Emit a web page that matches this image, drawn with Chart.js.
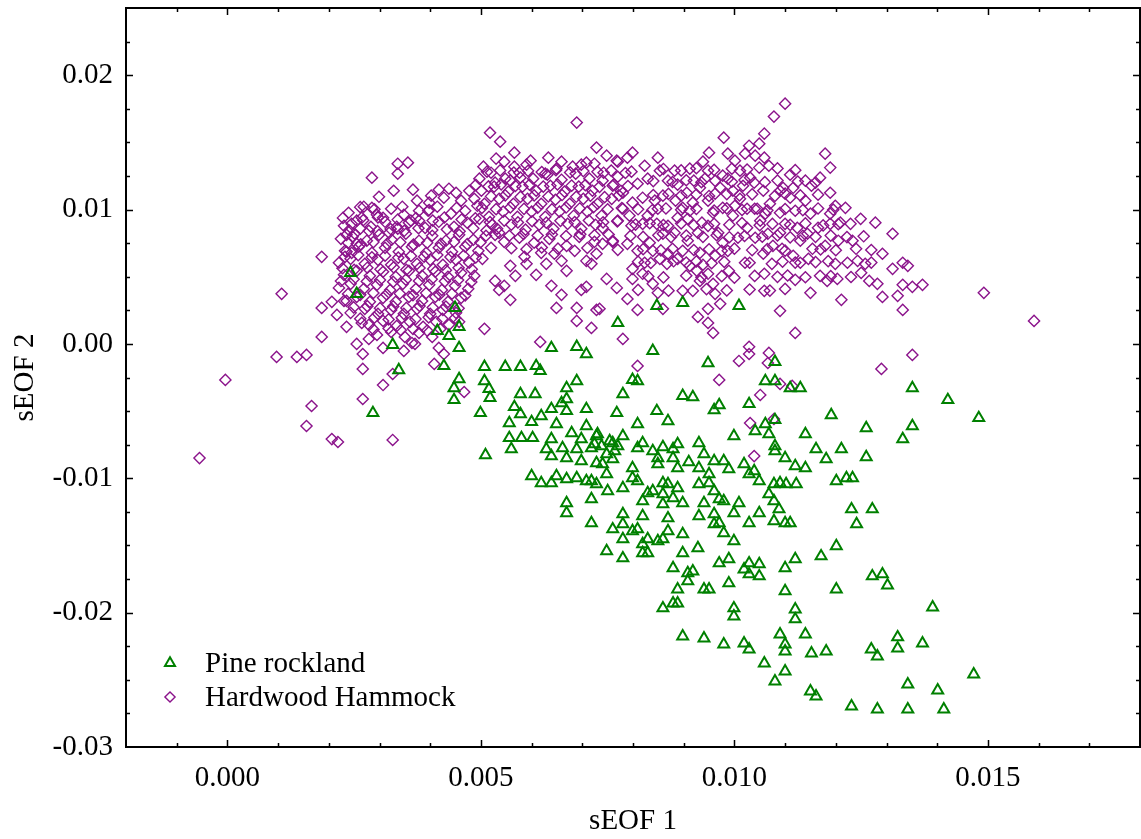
<!DOCTYPE html>
<html>
<head>
<meta charset="utf-8">
<script src="https://cdn.jsdelivr.net/npm/chart.js@4.4.1/dist/chart.umd.min.js"></script>
<style>
  html, body { margin: 0; padding: 0; background: #ffffff; overflow: hidden; }
  canvas { display: block; }
</style>
</head>
<body>
<canvas id="chart" width="1141" height="839"></canvas>
<script>
// Series names, axis titles and labelled tick values
const seriesNames = ['Pine rockland', 'Hardwood Hammock'];
const xTitle = 'sEOF 1';
const yTitle = 'sEOF 2';
const xTickValues = [0, 0.005, 0.010, 0.015];
const yTickValues = [-0.03, -0.02, -0.01, 0, 0.01, 0.02];

// [sEOF 1, sEOF 2] per site
const pineRockland = [
[.00243,.00529],[.00255,.00373],[.00326,-.00007],[.00338,-.00194],[.00287,-.00514],[.00449,.00268],[.00457,.00127],[.00437,.0006],[.00414,.00097],[.00457,-.0003],
[.00427,-.00164],[.00507,-.00171],[.00548,-.00171],[.00578,-.00171],[.00609,-.00164],[.00617,-.00201],[.00639,-.0003],[.00689,-.00022],[.00708,-.00075],[.0077,.00156],
[.00847,.00283],[.00839,-.00052],[.00457,-.00261],[.00447,-.00328],[.00447,-.00417],[.00507,-.00276],[.00516,-.00335],[.00518,-.00402],[.00499,-.00514],[.00578,-.00373],
[.00607,-.00373],[.00669,-.00328],[.00689,-.00276],[.00659,-.0044],[.00669,-.00499],[.00708,-.00484],[.00566,-.00469],[.00578,-.00522],[.00556,-.00589],[.006,-.00581],
[.00619,-.00537],[.00639,-.00484],[.00649,-.00596],[.00679,-.00663],[.00708,-.00611],[.0073,-.00671],[.00768,-.00514],[.00556,-.007],[.0058,-.007],[.00602,-.007],
[.00639,-.00708],[.00698,-.00708],[.00724,-.00745],[.00754,-.00723],[.0056,-.00782],[.00629,-.00782],[.00661,-.00775],[.00509,-.00827],[.00764,-.00797],
[.0078,-.00373],[.00799,-.00268],[.00809,-.00276],[.00809,-.00596],[.00847,-.00499],[.00639,-.00835],[.00669,-.0085],[.00689,-.00782],[.00698,-.00872],[.00728,-.00686],
[.00718,-.00775],[.00738,-.0076],[.0076,-.00738],[.0078,-.00686],[.0077,-.0076],[.00748,-.0082],[.0074,-.00894],[.0076,-.00857],[.00799,-.00924],[.00819,-.00738],
[.00809,-.00775],[.00839,-.00797],[.00849,-.0085],[.00839,-.01095],[.00819,-.0117],[.00799,-.00999],[.00809,-.01021],[.0078,-.01073],[.0075,-.01095],[.00718,-.01021],
[.00708,-.01021],[.00689,-.00999],[.00669,-.01006],[.00649,-.00984],[.00639,-.01036],[.00619,-.01036],[.006,-.00984],[.00669,-.01185],[.00669,-.01259],[.00718,-.01155],
[.00718,-.01334],[.0078,-.01267],[.0078,-.01341],[.00819,-.01282],[.0076,-.01379],[.00799,-.01393],[.00809,-.01379],[.00829,-.01453],[.0078,-.01453],[.00819,-.0149],
[.00748,-.01542],[.0078,-.01595],[.00819,-.01557],[.00829,-.01557],[.00849,-.01468],[.00948,-.00142],[.0108,-.00134],[.01061,-.00276],[.0108,-.00276],[.0111,-.00328],
[.0113,-.00328],[.00898,-.00387],[.00918,-.00395],[.0097,-.00455],[.0096,-.00492],[.01029,-.00447],[.0108,-.00566],[.01061,-.00596],[.01041,-.00648],[.01068,-.00671],
[.0108,-.0076],[.0108,-.00797],[.011,-.0085],[.0112,-.00909],[.0114,-.00924],[.0114,-.00671],[.01161,-.00782],[.01181,-.00857],[.01211,-.00782],[.01191,-.00529],
[.0126,-.00626],[.0126,-.00842],[.01332,-.00708],[.01351,-.00611],[.01351,-.00328],[.01421,-.00417],[.01482,-.00551],[.01201,-.01021],[.01221,-.00999],[.01233,-.00999],
[.01231,-.0123],[.01272,-.0123],[.01241,-.01341],[.01122,-.01043],[.01102,-.01043],[.0109,-.01036],[.01078,-.01043],[.01049,-.01021],[.01039,-.00946],[.01029,-.00969],
[.01019,-.00894],[.00989,-.00931],[.00979,-.00872],[.0096,-.00872],[.0095,-.00969],[.0095,-.01036],[.0093,-.00924],[.0093,-.01043],[.0094,-.0082],[.0093,-.00738],
[.0091,-.00879],[.00888,-.00745],[.00879,-.00782],[.00859,-.00768],[.00888,-.00924],[.00879,-.0085],[.00869,-.00574],[.00849,-.00894],[.00669,-.0041],[.00748,-.00969],
[.00728,-.00887],[.00728,-.01043],[.00829,-.0111],[.00859,-.01036],[.00859,-.01118],[.00869,-.01043],[.00879,-.01148],[.00888,-.01073],[.00898,-.01185],[.00859,-.01192],
[.00869,-.01297],[.00869,-.01393],[.00859,-.01453],[.00898,-.01416],[.00898,-.01557],[.00928,-.0152],[.00879,-.01669],[.00908,-.01706],[.00918,-.01692],[.00908,-.01766],
[.00888,-.01826],[.00859,-.01967],[.00879,-.0193],[.00888,-.0193],[.0094,-.01826],[.0095,-.01826],[.0097,-.01632],[.00989,-.01602],[.00989,-.01781],[.00999,-.01468],
[.00979,-.01408],[.0097,-.01334],[.0096,-.01267],[.0097,-.01155],[.00979,-.0117],[.0096,-.01095],[.0094,-.01185],[.0093,-.01282],[.0096,-.01341],[.01009,-.01185],
[.00999,-.01259],[.01029,-.01334],[.01049,-.01259],[.01078,-.01319],[.011,-.01334],[.0111,-.01334],[.01068,-.01118],[.01078,-.0117],[.01088,-.0123],[.01029,-.01632],
[.01019,-.01677],[.01029,-.01714],[.01049,-.01639],[.01049,-.01729],[.011,-.01669],[.0112,-.01602],[.01171,-.0158],[.01201,-.01505],[.01272,-.01729],[.01292,-.01714],
[.01302,-.01796],[.01201,-.01826],[.011,-.0184],[.00999,-.01967],[.00999,-.02027],[.0112,-.01975],[.0112,-.02049],[.01391,-.0196],[.00898,-.02176],[.0094,-.02191],
[.00979,-.02236],[.01019,-.02228],[.01029,-.02273],[.0109,-.02161],[.011,-.02236],[.011,-.02288],[.0114,-.02161],[.01152,-.02303],[.01181,-.02288],[.01059,-.02377],
[.011,-.02437],[.0108,-.02511],[.0115,-.02586],[.01161,-.02623],[.0127,-.02273],[.01282,-.02325],[.01322,-.02183],[.01322,-.02265],[.01371,-.02228],[.01472,-.02459],
[.01342,-.02534],[.01401,-.02578],[.01231,-.02698],[.01282,-.0272],[.01342,-.0272],[.01413,-.0272],[.00898,.00306],[.01009,.00283],[.00999,-.00686]
];

const hardwoodHammock = [
[-.00055,-.0085],[-.00004,-.00268],[.00097,-.00097],[.00137,-.00097],[.00156,-.00082],[.00107,.00373],[.00186,.00648],[.00186,.00052],[.00166,-.00462],[.00156,-.00611],
[.00206,-.00708],[.00218,-.0073],[.00326,-.00715],[.00267,-.0041],[.00307,-.00306],[.00267,-.00186],[.00326,-.00224],[.00408,-.00149],[.00427,-.00075],[.00417,-.0003],
[.00267,-.00075],[.00255,0],[.00279,.00037],[.00307,-.0003],[.00348,-.00052],[.00364,.00007],[.00235,.00127],[.00265,.00156],[.00186,.00268],[.00206,.00313],
[.00216,.00216],[.00235,.0032],[.00507,.00112],[.00457,.00164],[.00467,-.00358],[.00617,.00015],[.00558,.00328],[.00649,.00268],[.00659,.00365],[.00639,.00432],
[.00689,.00268],[.00689,.00171],[.00718,.00119],[.00728,.00253],[.00698,.00402],[.00708,.00425],[.00748,.00484],[.00768,.00417],[.00285,.01237],[.00336,.01341],
[.00356,.01349],[.00336,.01267],[.00366,.01148],[.00518,.01572],[.00538,.01505],[.00689,.01647],[.00728,.01461],[.00748,.01401],[.00546,.01356],[.00566,.01319],
[.0059,.01334],[.00627,.01267],[.00649,.01304],[.00659,.01356],[.00698,.01334],[.00708,.01349],[.00768,.01364],[.00528,.012],[.00558,.01215],[.00578,.01237],
[.00245,.00894],[.00265,.00939],[.00285,.01013],[.00307,.00939],[.00235,.00812],[.00247,.00797],[.00235,.00686],[.00245,.00678],[.00255,.00745],[.00279,.00842],
[.00398,.01051],[.00417,.01148],[.00427,.01088],[.00451,.01125],[.00477,.0114],[.00487,.0108],[.00507,.01043],[.00396,.00991],[.00378,.00917],[.00358,.00902],
[.00336,.00857],[.00319,.00827],[.0059,.00596],[.00609,.00514],[.00629,.00596],[.00659,.00618],[.00669,.00544],[.00669,.0073],[.00619,.00678],[.00558,.00581],
[.00568,.00507],[.00546,.00432],[.00528,.00469],[.00536,.00402],[.00708,.00618],[.00718,.00596],[.00728,.00671],[.0074,.00745],[.0076,.0076],[.0077,.007],
[.011,.01788],[.01078,.01692],[.01059,.01565],[.00979,.01535],[.00987,.01416],[.0095,.01423],[.00938,.01356],[.00948,.01289],[.01029,.01475],[.01049,.0149],
[.01021,.01416],[.01041,.01401],[.01059,.01386],[.01068,.01326],[.01049,.01312],[.01011,.01289],[.01031,.01237],[.00987,.0123],[.00977,.01252],[.01179,.01416],
[.01189,.01312],[.0111,.01259],[.01096,.01162],[.01116,.01162],[.0114,.01215],[.01152,.01177],[.01169,.01237],[.01189,.01125],[.01199,.01028],[.01189,.00969],
[.0114,.01066],[.0111,.01088],[.0109,.0114],[.00849,.01386],[.00799,.01423],[.00789,.01386],[.0077,.01356],[.00829,.0123],[.00809,.01192],[.00869,.01215],
[.00888,.01185],[.0092,.01215],[.00932,.01162],[.00906,.01125],[.00859,.01103],[.00819,.01088],[.00799,.01051],[.0078,.01125],[.0076,.01177],[.0074,.01215],
[.00758,.0108],[.0078,.01006],[.00829,.00954],[.00849,.01006],[.00898,.01013],[.00918,.01051],[.00948,.01066],[.00962,.01118],[.00972,.01162],[.00997,.0114],
[.01017,.01177],[.01039,.012],[.01057,.0114],[.0107,.01043],[.01045,.01006],[.01025,.01006],[.01001,.01028],[.00977,.01013],[.00958,.00976],[.00936,.00902],
[.00908,.00931],[.00888,.00939],[.00869,.00879],[.00847,.00894],[.00819,.00894],[.00797,.00879],[.0077,.00917],[.0074,.00864],[.0076,.00768],[.00789,.00745],
[.00809,.00693],[.00833,.00753],[.00859,.0082],[.00882,.00827],[.00908,.00768],[.00928,.00827],[.00948,.00879],[.00968,.00827],[.00977,.00753],[.01007,.0079],
[.01025,.00864],[.01041,.0079],[.01066,.0082],[.0109,.00827],[.011,.00894],[.01124,.00864],[.01144,.0082],[.01165,.00864],[.01189,.00894],[.01209,.00902],
[.01229,.00894],[.01249,.00931],[.01278,.00902],[.01312,.0082],[.01292,.00671],[.01332,.00604],[.01312,.00559],[.01342,.00581],[.01371,.0044],[.01351,.00425],
[.01332,.0044],[.01322,.00358],[.01332,.00253],[.01292,.0035],[.01282,.00447],[.01266,.00469],[.0125,.00529],[.01258,.00596],[.01243,.00618],[.01223,.00604],
[.01199,.00596],[.01203,.00484],[.01183,.00469],[.01169,.00507],[.01146,.00633],[.0113,.00604],[.01116,.00656],[.01094,.00708],[.01076,.0073],[.01057,.00671],
[.01074,.00596],[.01059,.00522],[.0112,.00477],[.0115,.0038],[.01211,.00328],[.0109,.00246],[.01059,.00395],[.0112,.00082],[.00989,.00544],[.00958,.00447],
[.00938,.00589],[.00948,.00522],[.00926,.00544],[.00912,.00581],[.00898,.00395],[.00918,.00395],[.00932,.00469],[.00962,.00373],[.00972,.00298],[.00948,.00261],
[.00928,.00201],[.00948,.00156],[.00958,.00082],[.00859,.00261],[.00809,.00253],[.00789,.00335],[.00799,.00484],[.00819,.00522],[.00839,.00447],[.00849,.0038],
[.00799,.00559],[.00867,.00596],[.00888,.00633],[.00869,.00671],[.00839,.00693],[.0078,.00037],[.00809,-.00164],[.0097,-.00268],[.01009,-.00127],[.01029,-.00075],
[.01029,-.00022],[.01068,-.00067],[.0109,-.00298],[.01051,-.0038],[.01031,-.00589],[.01078,-.00559],[.01039,-.00835],[.0129,-.00186],[.01351,-.00082],[.01492,.0038],
[.01591,.00171],[.00734,.00261],[.01066,-.00142],[.01114,-.00313],
[.00299,.01095],[.00328,.0114],[.00374,.01066],[.00402,.01103],[.00437,.01155],[.00461,.01066],
[.00239,.00976],[.00269,.01021],[.00295,.00961],[.00323,.01006],[.00348,.00961],[.00378,.00991],[.00414,.01021],[.00441,.00969],[.00469,.00991],[.00493,.01028],
[.0023,.00879],[.00255,.00917],[.00283,.00872],[.00311,.00909],[.00334,.00872],[.00362,.00917],[.0039,.00864],[.00417,.00909],[.00447,.00872],[.00473,.00902],[.00497,.00931],[.00522,.00887],
[.00224,.00782],[.00251,.0082],[.00275,.00768],[.00299,.00812],[.00324,.00775],[.00352,.0082],[.00378,.00768],[.00404,.00805],[.00431,.00768],[.00457,.00812],[.00485,.00775],[.0051,.00805],[.00536,.00827],
[.00232,.00693],[.00259,.00723],[.00285,.00678],[.00311,.00715],[.00338,.00686],[.00364,.00723],[.00392,.00678],[.00417,.00715],[.00443,.00686],[.00469,.00723],[.00495,.00693],[.0052,.00715],
[.0022,.00604],[.00243,.00633],[.00271,.00596],[.00297,.00626],[.00323,.00589],[.00348,.00633],[.00374,.00596],[.004,.00626],[.00425,.00589],[.00451,.00626],[.00477,.00604],[.00503,.00633],
[.0023,.00514],[.00255,.00544],[.00281,.00507],[.00307,.00537],[.00332,.00499],[.00358,.00544],[.00384,.00507],[.0041,.00537],[.00435,.00499],[.00461,.00529],[.00487,.00507],
[.0022,.00417],[.00243,.00447],[.00269,.0041],[.00295,.0044],[.00321,.00402],[.00346,.00447],[.00372,.0041],[.00398,.0044],[.00423,.00402],[.00449,.00432],[.00475,.0041],
[.0023,.0032],[.00255,.0035],[.00281,.00313],[.00307,.00343],[.00332,.00313],[.00358,.0035],[.00384,.0032],[.0041,.0035],[.00435,.00313],[.00461,.00343],
[.00243,.00231],[.00271,.00261],[.00297,.00224],[.00323,.00253],[.00348,.00224],[.00374,.00261],[.004,.00224],[.00425,.00253],[.00451,.00231],
[.00279,.00142],[.00307,.00171],[.00334,.00134],[.0036,.00164],[.00386,.00127],[.00412,.00164],[.00437,.00142],
[.00295,.00067],[.00323,.00089],[.0035,.00052],[.00378,.00082],[.00404,.00052],[.0037,0],
[.00505,.01319],[.0053,.01379],[.00566,.01423],[.00598,.01364],[.00633,.01386],[.00681,.01319],[.00724,.01341],
[.00497,.0123],[.0052,.01274],[.00548,.0123],[.00576,.01274],[.00603,.0123],[.00631,.01259],[.00659,.01222],[.00687,.01267],[.00714,.0123],[.00742,.01274],[.0077,.01244],[.00797,.01282],
[.00501,.0114],[.00526,.0117],[.00554,.01133],[.00582,.0117],[.00609,.0114],[.00637,.01177],[.00665,.01133],[.00693,.0117],[.0072,.0114],[.00776,.0114],
[.00536,.0108],[.00564,.01043],[.00592,.0108],[.00619,.01043],[.00647,.01073],[.00675,.01043],[.00702,.0108],[.0073,.01043],
[.00516,.00946],[.00544,.00984],[.00572,.00946],[.006,.00984],[.00627,.00946],[.00655,.00984],[.00683,.00954],[.0071,.00984],[.00738,.00954],[.00793,.00954],
[.00532,.00857],[.0056,.00887],[.00588,.0085],[.00615,.00887],[.00643,.00857],[.00671,.00894],[.00698,.00857],[.00726,.00887],
[.00546,.0076],[.00576,.0079],[.00605,.00753],[.00635,.00782],[.00694,.00797],[.00724,.0076],
[.00586,.00648],[.00645,.00671],[.00685,.00693],
[.00823,.01326],[.00853,.01289],[.00882,.01289],[.00912,.01304],[.00942,.0123],[.01001,.01364],[.01011,.0108],[.01061,.00969],[.0109,.00976],[.0112,.00991],
[.0115,.00969],[.01219,.01013],[.01233,.00768],[.01205,.00768],[.01179,.0073],[.01154,.00708],[.0113,.00768],[.00987,.00693],[.00962,.00656],[.00932,.00678],
[.00898,.00693],[.00853,.00633],[.00823,.00604],[.00997,.00954],[.01051,.00917],[.00912,.00991],[.00884,.01066],[.00843,.01066],[.01021,.00604],
[.00262,.01018],[.0029,.01002],[.00345,.01021],[.00398,.00996],[.00452,.01012],
[.00228,.00938],[.00268,.00921],[.00297,.00942],[.00336,.00925],[.00372,.00937],[.00405,.00918],[.00428,.00941],[.00462,.00926],[.00489,.00935],
[.0024,.00846],[.00262,.00858],[.00296,.00839],[.00322,.00855],[.00349,.00842],[.00377,.00861],[.00404,.00847],[.00433,.00852],[.00458,.00838],[.00485,.0086],[.00511,.00844],
[.00238,.00752],[.00263,.00741],[.00288,.00758],[.00315,.00745],[.00341,.00756],[.00367,.00739],[.00394,.00752],[.00421,.00744],[.00447,.00759],[.00473,.00742],[.00499,.00755],
[.00232,.00648],[.00258,.00661],[.00285,.00645],[.00311,.00657],[.00337,.00642],[.00362,.00655],[.00388,.00649],[.00414,.00662],[.0044,.00646],[.00466,.00658],[.0049,.00644],
[.00227,.00563],[.0025,.00551],[.00276,.00567],[.00302,.00555],[.00328,.0057],[.00353,.00552],[.00379,.00565],[.00406,.00558],[.00431,.00549],[.00456,.00566],[.00482,.00555],
[.00224,.00468],[.00249,.00481],[.00275,.00465],[.00301,.00476],[.00327,.00462],[.00352,.00478],[.00378,.00469],[.00403,.00482],[.00429,.00466],[.00455,.00475],[.00481,.00461],
[.00238,.00372],[.00262,.00365],[.00288,.00379],[.00314,.00368],[.0034,.00375],[.00366,.00362],[.00392,.00378],[.00418,.00366],[.00443,.00374],[.00469,.00361],
[.00249,.00272],[.00276,.00281],[.00301,.00266],[.00327,.00279],[.00353,.00268],[.00379,.00283],[.00405,.00271],[.00431,.00278],[.00456,.00265],
[.00262,.00188],[.0029,.00196],[.00318,.00182],[.00344,.00194],[.00371,.00185],[.00397,.00198],[.00424,.00187],[.00449,.00192],
[.00288,.00108],[.00318,.00115],[.00342,.00102],[.00366,.00112],[.00394,.00099],[.0042,.00111],
[.00512,.01282],[.00538,.01291],[.00565,.01275],[.00593,.01288],[.0062,.01279],[.00648,.01293],[.00676,.01276],[.00702,.01286],[.0073,.01281],[.00757,.0129],[.00785,.01272],
[.0049,.01183],[.00515,.01172],[.0054,.01188],[.00568,.01176],[.00596,.01185],[.00623,.01171],[.00651,.01187],[.00679,.01178],[.00706,.01182],[.00734,.01169],[.00762,.01186],[.0079,.01175],
[.0052,.01098],[.00548,.01106],[.00578,.01094],[.00605,.01105],[.00633,.01097],[.0066,.01108],[.00688,.01095],[.00716,.01103],[.00744,.01092],[.00772,.01106],
[.00502,.01012],[.0053,.01003],[.00558,.01016],[.00585,.01005],[.00612,.01014],[.0064,.01001],[.00668,.01015],[.00695,.01008],[.00722,.01017],[.0075,.01002],[.00778,.01011],
[.00518,.00906],[.00546,.00918],[.00573,.00904],[.00601,.00913],[.00629,.00902],[.00657,.00916],[.00685,.00907],[.00713,.00919],[.00741,.00905],[.00769,.00912],
[.00528,.00812],[.00556,.00805],[.00584,.00818],[.00612,.00806],[.0064,.00815],[.00668,.00803],[.00696,.00817],[.00724,.00808],[.00752,.00814],
[.0056,.00712],[.0059,.00705],[.0062,.00718],[.00652,.00709],[.0071,.00714],
[.0086,.01302],[.00895,.01291],[.00925,.01308],[.0096,.01295],[.00995,.01304],[.01025,.01298],[.01085,.01306],[.0112,.01293],
[.0084,.01212],[.00878,.01205],[.00905,.01218],[.00935,.01203],[.00962,.01214],[.00995,.01207],[.0102,.01219],[.0106,.01204],[.01085,.01216],[.01125,.01208],[.0116,.01201],
[.0084,.01108],[.0087,.01116],[.00895,.01104],[.00925,.01112],[.0095,.01101],[.00985,.01115],[.0101,.01106],[.01035,.01113],[.0108,.01102],[.011,.01118],[.0113,.01105],[.01165,.01111],
[.0081,.01002],[.00838,.00995],[.00865,.01008],[.00895,.00998],[.00925,.01005],[.0096,.00993],[.00985,.01009],[.01015,.00997],[.0104,.01006],[.01065,.00994],[.011,.01004],[.01135,.00996],[.01165,.01008],[.01195,.00999],
[.00805,.00888],[.00833,.00898],[.0086,.00885],[.00895,.00896],[.0092,.00883],[.0096,.00894],[.0099,.00887],[.01015,.00899],[.0105,.00884],[.01075,.00893],[.0111,.00886],[.0114,.00897],[.01175,.00882],[.01205,.00891],
[.00795,.00804],[.0082,.00796],[.0085,.00808],[.00875,.00795],[.00905,.00806],[.00938,.00797],[.00965,.00809],[.0099,.00794],[.0102,.00803],[.01055,.00798],[.01085,.00807],[.0111,.00793],[.01135,.00805],[.0116,.00797],[.0119,.00806],[.01222,.00795],[.01255,.00801],
[.0082,.00705],[.00855,.00696],[.00878,.00708],[.0092,.00699],[.0095,.00704],[.00975,.00693],[.01,.00709],[.01035,.00698],[.01065,.00706],[.011,.00694],[.0117,.00703],[.012,.00697],[.0124,.00708],[.0127,.00699],
[.0081,.00612],[.00835,.00603],[.0088,.00615],[.00905,.00606],[.00925,.00614],[.00955,.00601],[.0098,.00611],[.0103,.00604],[.01095,.00613],[.0112,.00605],[.0116,.00609],[.01185,.00616],[.0127,.00605],
[.0083,.00502],[.0086,.00495],[.00905,.00508],[.00935,.00497],[.00975,.00504],[.01,.00493],[.0104,.00506],[.01085,.00499],[.01105,.00509],[.0114,.00496],[.0119,.00504],[.0123,.00498],
[.0081,.00402],[.0087,.00396],[.00945,.00408],[.00985,.00398],[.0103,.00405],[.0107,.00397],[.011,.00409]
];

const FONT_FAMILY = '"Liberation Serif", "Times New Roman", serif';
const FONT_SIZE = 29;
const PINE_COLOR = '#008000';
const HAMMOCK_COLOR = '#8b138b';

const toXY = rows => rows.map(r => ({ x: r[0], y: r[1] }));

// Closed frame with inward major/minor ticks on all four sides
const frameAndTicks = {
  id: 'frameAndTicks',
  afterDatasetsDraw(chart) {
    const { ctx, chartArea: a, scales } = chart;
    const sx = scales.x, sy = scales.y;
    ctx.save();
    ctx.strokeStyle = '#000';
    ctx.lineWidth = 1.5;
    ctx.beginPath();
    for (let i = -1; i <= 17; i++) {
      const px = Math.round(sx.getPixelForValue(i / 1000)) + 0.5;
      const len = (i % 5 === 0) ? 7 : 4;
      ctx.moveTo(px, a.bottom); ctx.lineTo(px, a.bottom - len);
      ctx.moveTo(px, a.top); ctx.lineTo(px, a.top + len);
    }
    for (let j = -11; j <= 9; j++) {
      const py = Math.round(sy.getPixelForValue(j * 0.0025)) + 0.5;
      const len = (j % 4 === 0) ? 7 : 4;
      ctx.moveTo(a.left, py); ctx.lineTo(a.left + len, py);
      ctx.moveTo(a.right, py); ctx.lineTo(a.right - len, py);
    }
    ctx.stroke();
    ctx.lineWidth = 2;
    ctx.strokeRect(a.left, a.top, a.right - a.left, a.bottom - a.top);
    ctx.restore();
  }
};

// Legend drawn inside the lower-left corner of the plot
const insideLegend = {
  id: 'insideLegend',
  afterDraw(chart) {
    const { ctx, chartArea: a } = chart;
    ctx.save();
    ctx.font = FONT_SIZE + 'px ' + FONT_FAMILY;
    ctx.textBaseline = 'middle';
    ctx.textAlign = 'left';
    chart.data.datasets.forEach((ds, i) => {
      const cy = a.bottom - 84 + i * 34;
      const cx = a.left + 44;
      ctx.strokeStyle = ds.pointBorderColor;
      ctx.fillStyle = 'rgba(0,0,0,0)';
      ctx.lineWidth = ds.pointBorderWidth;
      Chart.helpers.drawPoint(ctx, {
        pointStyle: ds.pointStyle, radius: ds.pointRadius - 0.5,
        rotation: 0, borderWidth: ds.pointBorderWidth
      }, cx, cy);
      ctx.fillStyle = '#000';
      ctx.fillText(ds.label, a.left + 79, cy + 1);
    });
    ctx.restore();
  }
};

const tickFont = { family: FONT_FAMILY, size: FONT_SIZE };

new Chart(document.getElementById('chart'), {
  type: 'scatter',
  data: {
    datasets: [
      {
        label: seriesNames[0],
        data: toXY(pineRockland),
        pointStyle: 'triangle',
        pointRadius: 6.3,
        pointBorderWidth: 2,
        pointBorderColor: PINE_COLOR,
        pointBackgroundColor: 'rgba(0,0,0,0)',
        showLine: false
      },
      {
        label: seriesNames[1],
        data: toXY(hardwoodHammock),
        pointStyle: 'rectRot',
        pointRadius: 5.6,
        pointBorderWidth: 1.4,
        pointBorderColor: HAMMOCK_COLOR,
        pointBackgroundColor: 'rgba(0,0,0,0)',
        showLine: false
      }
    ]
  },
  options: {
    responsive: false,
    devicePixelRatio: 1,
    animation: false,
    events: [],
    layout: { autoPadding: false, padding: { top: 8, right: 1, left: 0, bottom: 0 } },
    plugins: { legend: { display: false }, tooltip: { enabled: false } },
    scales: {
      x: {
        type: 'linear',
        min: -0.002,
        max: 0.018,
        afterBuildTicks: s => { s.ticks = xTickValues.map(v => ({ value: v })); },
        afterFit: s => { s.height = 92; s.paddingLeft = 0; s.paddingRight = 0; },
        ticks: {
          callback: v => Number(v).toFixed(3),
          font: tickFont, color: '#000', padding: 14,
          maxRotation: 0, minRotation: 0, autoSkip: false
        },
        grid: { display: false, drawTicks: false },
        border: { display: false },
        title: {
          display: true, text: xTitle, color: '#000',
          font: tickFont, padding: { top: 0, bottom: 0 }
        }
      },
      y: {
        type: 'linear',
        min: -0.03,
        max: 0.025,
        afterBuildTicks: s => { s.ticks = yTickValues.map(v => ({ value: v })); },
        afterFit: s => { s.width = 126; s.paddingTop = 0; s.paddingBottom = 0; },
        ticks: {
          callback: v => Number(v).toFixed(2),
          font: tickFont, color: '#000', padding: 13, autoSkip: false
        },
        grid: { display: false, drawTicks: false },
        border: { display: false },
        title: {
          display: true, text: yTitle, color: '#000',
          font: tickFont, padding: { top: 8, bottom: 0 }
        }
      }
    }
  },
  plugins: [frameAndTicks, insideLegend]
});
</script>
</body>
</html>
